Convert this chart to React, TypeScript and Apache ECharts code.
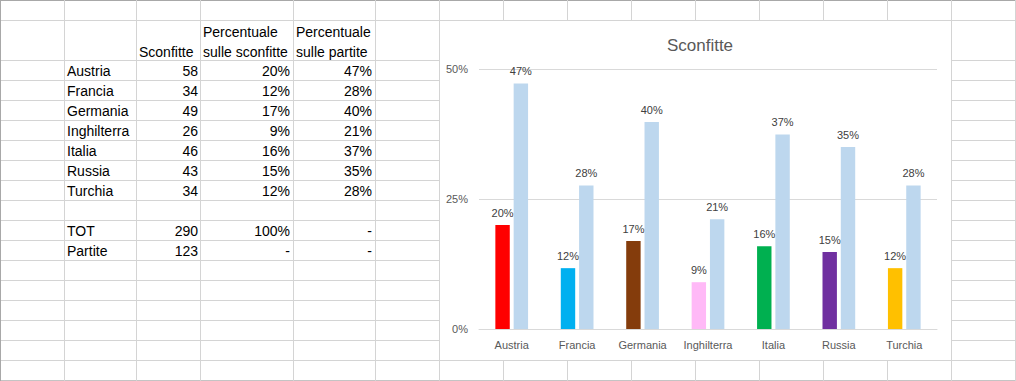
import React, { useEffect, useRef } from "react";
import * as echarts from "echarts";

const countries = ["Austria", "Francia", "Germania", "Inghilterra", "Italia", "Russia", "Turchia"];
const sconfitte = [58, 34, 49, 26, 46, 43, 34];
const pctSconfitte = [0.2, 0.117, 0.169, 0.09, 0.159, 0.148, 0.117];
const pctPartite = [0.472, 0.276, 0.398, 0.211, 0.374, 0.35, 0.276];
const barColors = ["#ff0000", "#00b0f0", "#843c0c", "#ffb9f7", "#00b050", "#7030a0", "#ffc000"];
const totRow = ["TOT", "290", "100%", "-"];
const partiteRow = ["Partite", "123", "-", "-"];
const yTicks = [0, 0.25, 0.5];
const chartTitle = "Sconfitte";

const colLines = [0, 64, 136, 200, 293, 375, 439, 503, 567, 631, 695, 759, 823, 887, 951, 1015];
const rowLines = [0, 20, 60, 80, 100, 120, 140, 160, 180, 200, 220, 240, 260, 280, 300, 320, 340, 360, 380];
const chartBox = { x0: 439, y0: 20, x1: 951, y1: 360 };

const pct = (v: number) => Math.round(v * 100) + "%";

export default function App() {
  const ref = useRef<HTMLDivElement>(null);
  useEffect(() => {
    document.body.style.margin = "0";
    const chart = echarts.init(ref.current!, null, { renderer: "svg" });
    const gridColor = "#d4d4d4";
    const g: any[] = [];
    rowLines.forEach((y) => {
      const yy = y + 0.5;
      const stroke = y === 0 ? "#a8a8a8" : y === 380 ? "#c4c4c4" : gridColor;
      if (y > chartBox.y0 && y < chartBox.y1) {
        g.push({ type: "line", shape: { x1: 0, y1: yy, x2: chartBox.x0, y2: yy }, style: { stroke, lineWidth: 1 } });
        g.push({ type: "line", shape: { x1: chartBox.x1, y1: yy, x2: 1016, y2: yy }, style: { stroke, lineWidth: 1 } });
      } else {
        g.push({ type: "line", shape: { x1: 0, y1: yy, x2: 1016, y2: yy }, style: { stroke, lineWidth: 1 } });
      }
    });
    colLines.forEach((x) => {
      const xx = x + 0.5;
      const stroke = x === 0 ? "#a8a8a8" : gridColor;
      if (x > chartBox.x0 && x < chartBox.x1) {
        g.push({ type: "line", shape: { x1: xx, y1: 0, x2: xx, y2: chartBox.y0 }, style: { stroke, lineWidth: 1 } });
        g.push({ type: "line", shape: { x1: xx, y1: chartBox.y1, x2: xx, y2: 381 }, style: { stroke, lineWidth: 1 } });
      } else {
        g.push({ type: "line", shape: { x1: xx, y1: 0, x2: xx, y2: 381 }, style: { stroke, lineWidth: 1 } });
      }
    });
    const font = '14px "Liberation Sans", Arial, sans-serif';
    const txt = (text: string, x: number, y: number, align: string) => ({
      type: "text",
      x,
      y,
      style: { text, font, fill: "#000000", textAlign: align, textVerticalAlign: "middle", verticalAlign: "middle" },
    });
    g.push(txt("Sconfitte", 139, 51.5, "left"));
    g.push(txt("Percentuale", 203, 32, "left"));
    g.push(txt("sulle sconfitte", 203, 51.5, "left"));
    g.push(txt("Percentuale", 296, 32, "left"));
    g.push(txt("sulle partite", 296, 51.5, "left"));
    countries.forEach((c, i) => {
      const y = 60 + i * 20 + 11;
      g.push(txt(c, 67, y, "left"));
      g.push(txt(String(sconfitte[i]), 198, y, "right"));
      g.push(txt(pct(pctSconfitte[i]), 290, y, "right"));
      g.push(txt(pct(pctPartite[i]), 372, y, "right"));
    });
    [totRow, partiteRow].forEach((row, k) => {
      const y = 220 + k * 20 + 11;
      g.push(txt(row[0], 67, y, "left"));
      g.push(txt(row[1], 198, y, "right"));
      g.push(txt(row[2], 290, y, "right"));
      g.push(txt(row[3], 372, y, "right"));
    });

    const chartFont = '"Liberation Sans", Arial, sans-serif';
    const labelOpt = {
      show: true,
      position: "top",
      distance: 7,
      color: "#404040",
      fontSize: 11,
      fontFamily: chartFont,
      formatter: (p: any) => pct(p.value),
    };
    chart.setOption({
      animation: false,
      backgroundColor: "#ffffff",
      title: {
        text: chartTitle,
        left: 695,
        top: 32,
        textAlign: "center",
        textStyle: { color: "#595959", fontSize: 17, fontWeight: "normal", fontFamily: chartFont },
      },
      graphic: g,
      grid: { left: 479, right: 79, top: 69, bottom: 52, containLabel: false },
      xAxis: {
        type: "category",
        data: countries,
        axisLine: { show: true, lineStyle: { color: "#d9d9d9" } },
        axisTick: { show: false },
        axisLabel: { color: "#595959", fontSize: 11, fontFamily: chartFont, margin: 10 },
      },
      yAxis: {
        type: "value",
        min: yTicks[0],
        max: yTicks[yTicks.length - 1],
        interval: yTicks[1] - yTicks[0],
        axisLine: { show: false },
        axisTick: { show: false },
        splitLine: { lineStyle: { color: "#d9d9d9" } },
        axisLabel: { color: "#595959", fontSize: 11, fontFamily: chartFont, margin: 11, formatter: (v: number) => pct(v) },
      },
      series: [
        {
          type: "bar",
          name: "Percentuale sulle sconfitte",
          data: pctSconfitte.map((v, i) => ({ value: v, itemStyle: { color: barColors[i] } })),
          barGap: "27%",
          barCategoryGap: "50%",
          label: labelOpt,
        },
        {
          type: "bar",
          name: "Percentuale sulle partite",
          data: pctPartite,
          itemStyle: { color: "#bdd7ee" },
          barGap: "27%",
          barCategoryGap: "50%",
          label: labelOpt,
        },
      ],
    });
    return () => chart.dispose();
  }, []);
  return <div ref={ref} style={{ width: 1016, height: 381 }} />;
}
